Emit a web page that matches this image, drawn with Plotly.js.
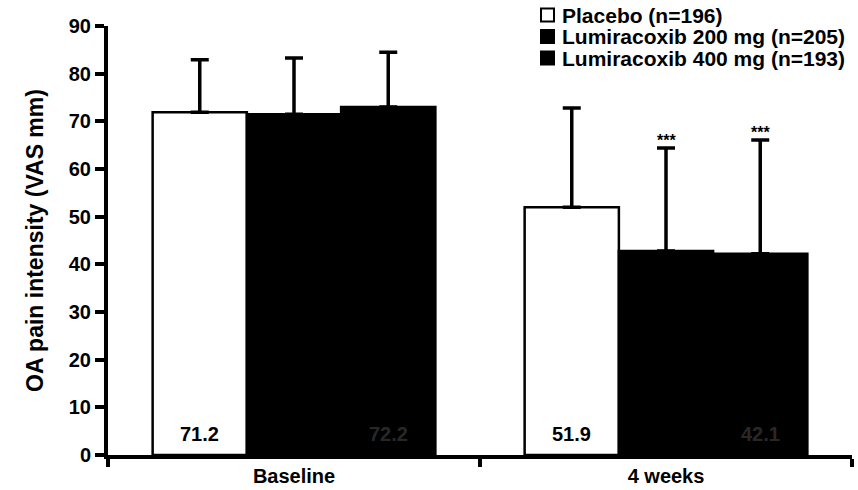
<!DOCTYPE html>
<html>
<head>
<meta charset="utf-8">
<script src="https://cdn.plot.ly/plotly-3.0.1.min.js"></script>
<style>html,body{margin:0;padding:0;background:#fff;}#chart{width:858px;height:490px;}</style>
</head>
<body>
<div id="chart"></div>
<script>
// ---- data ----
const categories = ['Baseline', '4 weeks'];
const seriesNames = ['Placebo (n=196)', 'Lumiracoxib 200 mg (n=205)', 'Lumiracoxib 400 mg (n=193)'];
const placeboMean = [71.9, 52.0];
const lumi200Mean = [71.5, 42.8];
const lumi400Mean = [73.0, 42.2];
const placeboSD = [11.0, 20.8];
const lumi200SD = [11.8, 21.6];
const lumi400SD = [11.5, 23.9];
const placeboLabels = ['71.2', '51.9'];
const lumi200Labels = ['', ''];
const lumi400Labels = ['72.2', '42.1'];
const lumi200Sig = ['', '***'];
const lumi400Sig = ['', '***'];
const yTicks = [0, 10, 20, 30, 40, 50, 60, 70, 80, 90];

// ---- styles ----
const FONT = 'Liberation Sans, Arial, sans-serif';
const FS = 20;
const fills = ['#ffffff', '#000000', '#000000'];
const labelColors = ['#000000', 'rgba(255,255,255,0.18)', 'rgba(255,255,255,0.18)'];
const BARGAP = 0.24;
const W = 858, H = 490;
const M = {l: 108, r: 6, t: 26, b: 35};

const means = [placeboMean, lumi200Mean, lumi400Mean];
const sds = [placeboSD, lumi200SD, lumi400SD];
const labels = [placeboLabels, lumi200Labels, lumi400Labels];
const sigs = [['', ''], lumi200Sig, lumi400Sig];

const traces = means.map((m, i) => ({
  type: 'bar',
  name: seriesNames[i],
  x: categories,
  y: m,
  marker: {color: fills[i], line: {color: '#000', width: 2.5}},
  error_y: {type: 'data', symmetric: false, array: sds[i], arrayminus: m.map(() => 0),
            color: '#000', thickness: 3.5, width: 9},
  hoverinfo: 'none',
  showlegend: false
}));

// annotations positioned through the category axis: bar centre = index + offset
const nT = means.length;
const barW = (1 - BARGAP) / nT;
const annotations = [];
means.forEach((m, i) => {
  const off = (i - (nT - 1) / 2) * barW;
  categories.forEach((c, k) => {
    if (labels[i][k]) {
      annotations.push({x: k + off, y: 0, xref: 'x', yref: 'y', yanchor: 'bottom', yshift: 8,
        text: '<b>' + labels[i][k] + '</b>', showarrow: false, font: {family: FONT, size: FS, color: labelColors[i]}});
    }
    if (sigs[i][k]) {
      annotations.push({x: k + off, y: m[k] + sds[i][k], xref: 'x', yref: 'y', yanchor: 'bottom', yshift: -3,
        text: '<b>' + sigs[i][k] + '</b>', showarrow: false, font: {family: FONT, size: 16, color: '#000'}});
    }
  });
});

// legend (drawn as key boxes + text in paper space)
const pw = W - M.l - M.r, ph = H - M.t - M.b;
const px = v => (v - M.l) / pw;
const py = v => 1 - (v - M.t) / ph;
const shapes = [];
const LEG_X = 541, LEG_Y0 = 15, LEG_DY = 21.5, BOX = 13;
seriesNames.forEach((nm, i) => {
  const cy = LEG_Y0 + i * LEG_DY;
  shapes.push({type: 'rect', xref: 'paper', yref: 'paper',
    x0: px(LEG_X), x1: px(LEG_X + BOX), y0: py(cy - BOX / 2), y1: py(cy + BOX / 2),
    fillcolor: fills[i], line: {color: '#000', width: 2}});
  annotations.push({xref: 'paper', yref: 'paper', x: px(LEG_X + BOX + 6), y: py(cy),
    xanchor: 'left', yanchor: 'middle', showarrow: false,
    text: '<b>' + nm + '</b>', font: {family: FONT, size: 21, color: '#000'}});
});

const layout = {
  width: W, height: H,
  margin: M,
  paper_bgcolor: '#fff', plot_bgcolor: '#fff',
  barmode: 'group', bargap: BARGAP, bargroupgap: 0,
  font: {family: FONT, size: FS, color: '#000'},
  showlegend: false,
  xaxis: {type: 'category', range: [-0.5, 1.5], showline: true, linecolor: '#000', linewidth: 4,
          ticks: 'outside', tickson: 'boundaries', ticklen: 8, tickwidth: 4, tickcolor: '#000',
          showgrid: false, zeroline: false, tickfont: {family: FONT, size: FS, weight: 'bold'}, fixedrange: true},
  yaxis: {range: [0, 90], tickvals: yTicks, showline: true, linecolor: '#000', linewidth: 4,
          ticks: 'outside', ticklen: 9, tickwidth: 4, tickcolor: '#000', showgrid: false, zeroline: false,
          tickfont: {family: FONT, size: FS, weight: 'bold'},
          title: {text: 'OA pain intensity (VAS mm)', font: {family: FONT, size: 23, weight: 'bold'}, standoff: 20},
          fixedrange: true},
  annotations: annotations,
  shapes: shapes
};

Plotly.newPlot('chart', traces, layout, {displayModeBar: false, staticPlot: true});
</script>
</body>
</html>
